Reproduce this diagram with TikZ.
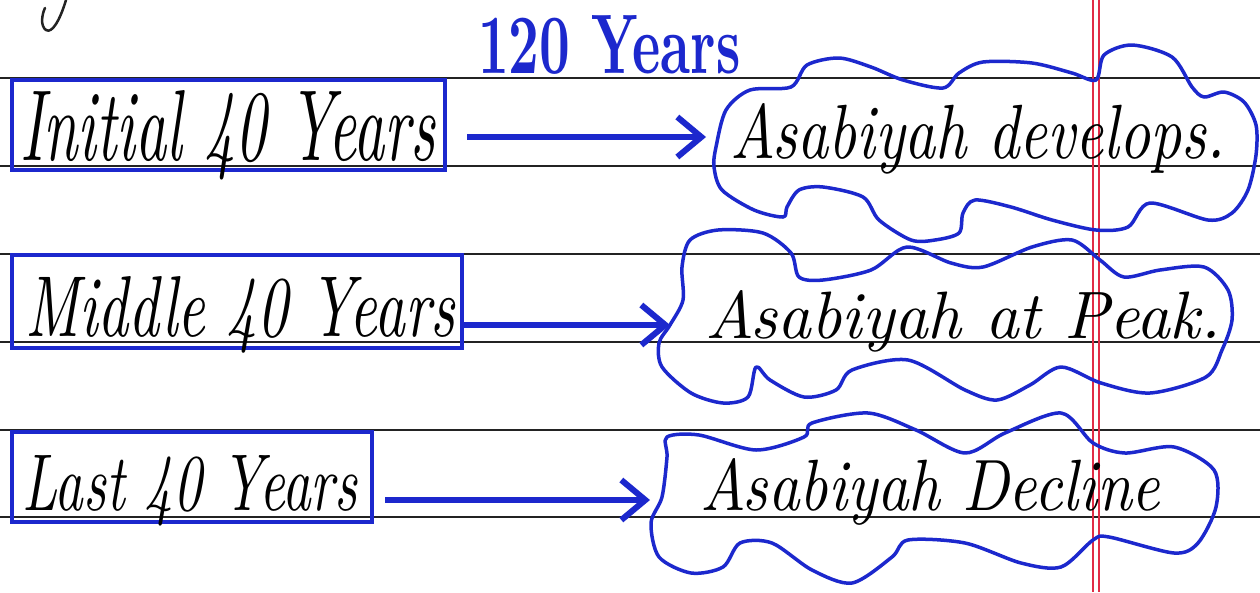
\documentclass[tikz,border=0pt]{standalone}
\usepackage{graphicx}
\usetikzlibrary{arrows.meta}
\definecolor{ink}{RGB}{28,40,205}
\definecolor{rulecol}{RGB}{35,35,35}
\definecolor{margincol}{RGB}{225,45,70}
\newcommand{\hw}[3]{\resizebox{#1}{#2}{\itshape #3}}
\begin{document}
\begin{tikzpicture}[x=1pt,y=-1pt,
 ruling/.style={rulecol, line width=2.2pt},
 box/.style={draw=ink, line width=4.5pt, inner sep=0pt},
 arr/.style={ink, line width=6pt, -{Straight Barb[length=24pt,width=40pt]}},
 cloudline/.style={ink, line width=3.5pt, line join=round},
 txt/.style={inner sep=0pt, anchor=base west, text=black},
]
\useasboundingbox (0,0) rectangle (1260,592);
\fill[white] (0,0) rectangle (1260,592);
% ruled paper
\foreach \yy in {78,166,254,342,430,517} \draw[ruling] (0,\yy) -- (1260,\yy);
\draw[margincol, line width=1.4pt] (1093,0) -- (1093,592);
\draw[margincol, line width=1.4pt] (1099,0) -- (1099,592);
% stray stroke
\draw[rulecol, line width=2.5pt, line cap=round] (66,0) .. controls (60,20) and (52,34) .. (46,30) .. controls (40,26) and (42,14) .. (45,8);
% title
\node[txt, text=ink] (title) at (478,73) {\resizebox{262pt}{58pt}{\bfseries 120 Years}};
% boxes
\node[box, minimum width=433pt, minimum height=90pt] (b1) at (228.5,125) {};
\node[box, minimum width=450pt, minimum height=93pt] (b2) at (237,301.5) {};
\node[box, minimum width=360pt, minimum height=90pt] (b3) at (192,477) {};
\node[txt] (l1) at (20,160) {\hw{415pt}{70pt}{Initial 40 Years}};
\node[txt] (l2) at (25,336) {\hw{430pt}{60pt}{Middle 40 Years}};
\node[txt] (l3) at (22,510) {\hw{335pt}{55pt}{Last 40 Years}};
% clouds
\draw[cloudline] plot[smooth cycle] coordinates {(716,147) (726,110) (750,90) (791,87) (807,65) (839,58) (871,67) (903,80) (943,88) (959,73) (983,62) (1032,63) (1072,73) (1096,80) (1104,55) (1132,45) (1172,57) (1192,87) (1204,97) (1224,92) (1244,102) (1256,125) (1256,155) (1248,190) (1232,213) (1208,220) (1150,203) (1128,227) (1096,230) (1052,220) (1011,207) (975,200) (963,213) (959,233) (935,240) (911,240) (879,220) (863,197) (823,187) (799,190) (787,207) (783,217) (754,210) (722,190) (714,167)};
\draw[cloudline] plot[smooth cycle] coordinates {(683,300) (682,267) (690,240) (718,230) (763,233) (791,253) (799,277) (823,280) (871,270) (907,247) (951,263) (983,267) (1032,247) (1072,240) (1100,260) (1124,277) (1160,270) (1204,267) (1228,290) (1232,320) (1222,350) (1206,377) (1150,393) (1101,383) (1061,367) (1030,385) (997,400) (965,390) (908,360) (852,370) (836,390) (804,397) (770,380) (756,367) (748,397) (723,403) (691,393) (662,367) (659,343) (670,325)};
\draw[cloudline] plot[smooth cycle] coordinates {(667,437) (699,435) (756,450) (804,437) (812,423) (868,413) (916,430) (965,453) (1005,433) (1061,413) (1093,443) (1125,453) (1174,447) (1214,470) (1216,507) (1198,543) (1174,553) (1109,537) (1093,540) (1061,567) (1021,563) (965,543) (908,540) (892,557) (852,583) (812,570) (772,543) (740,543) (723,567) (691,573) (659,557) (651,523) (662,497) (667,457)};
\node[txt] (c1) at (730,158) {\hw{495pt}{55pt}{Asabiyah develops.}};
\node[txt] (c2) at (705,338) {\hw{515pt}{48pt}{Asabiyah at Peak.}};
\node[txt] (c3) at (700,510) {\hw{460pt}{52pt}{Asabiyah Decline}};
% arrows
\coordinate (t1) at (706,137);
\coordinate (t2) at (670,325);
\coordinate (t3) at (650,500);
\draw[arr] ([xshift=20pt,yshift=-12pt]b1.east) -- (t1);
\draw[arr] ([yshift=-23.5pt]b2.east) -- (t2);
\draw[arr] ([xshift=11pt,yshift=-23pt]b3.east) -- (t3);
\end{tikzpicture}
\end{document}
